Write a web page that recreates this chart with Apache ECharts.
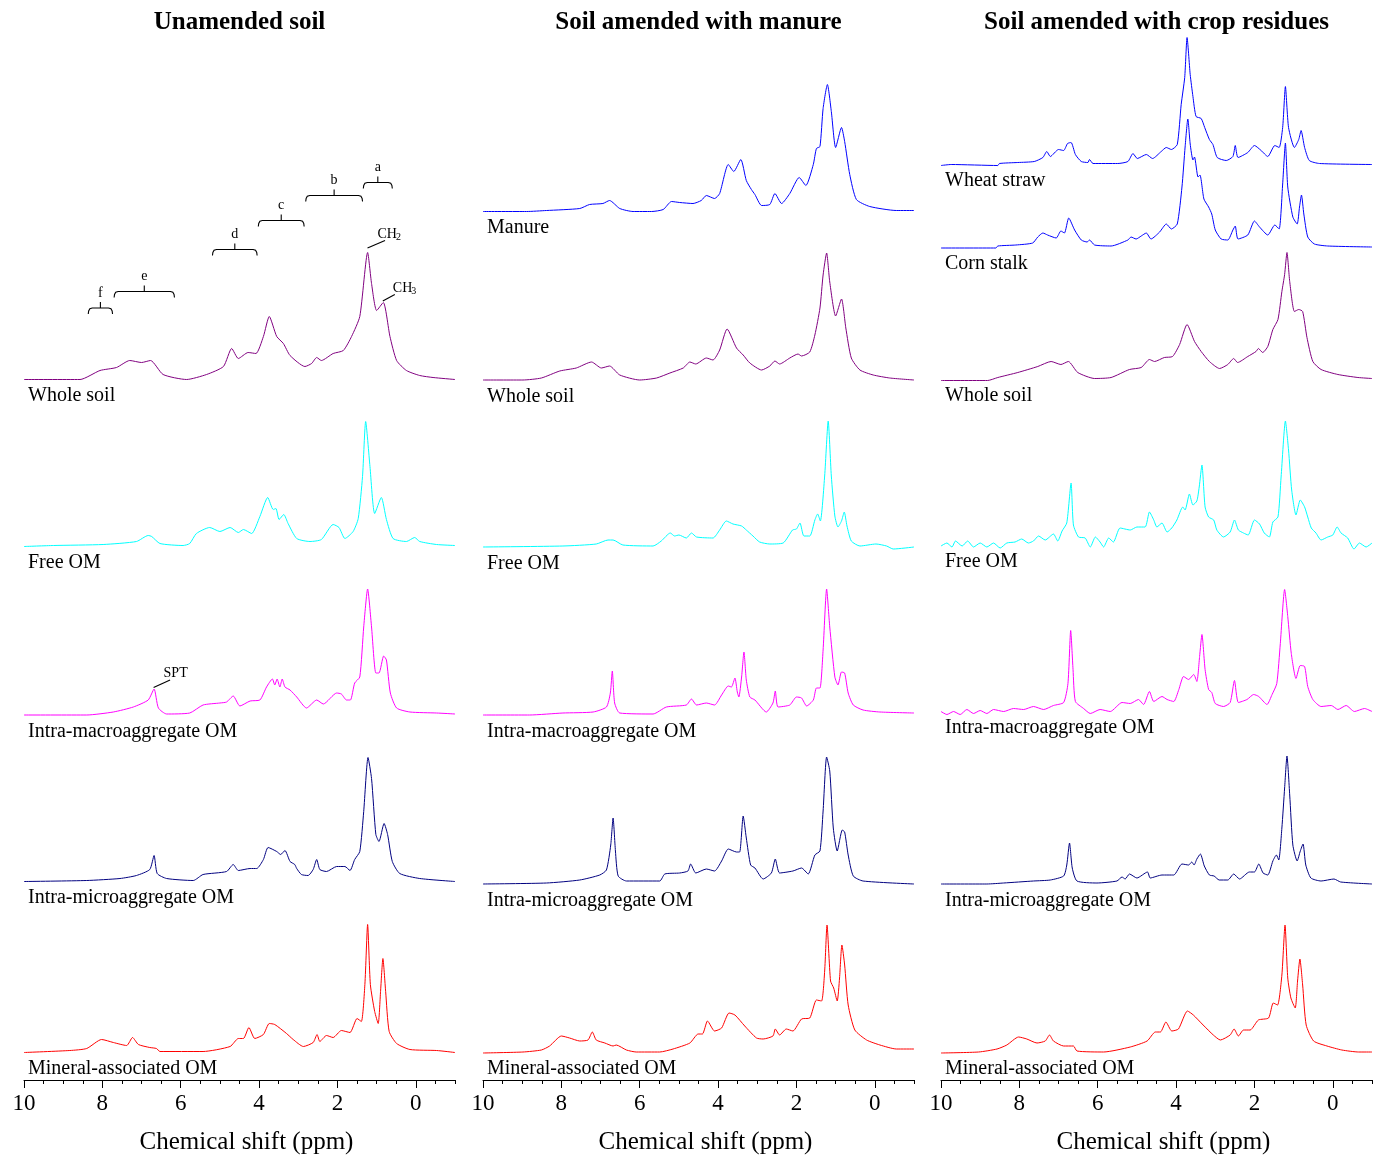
<!DOCTYPE html>
<html>
<head>
<meta charset="utf-8">
<script src="https://cdn.jsdelivr.net/npm/echarts@6.0.0/dist/echarts.min.js"></script>
<style>
html, body { margin: 0; padding: 0; background: #fff; }
#chart { width: 1379px; height: 1159px; }
</style>
</head>
<body>
<div id="chart"></div>
<script>
// [chemical shift (ppm), relative intensity]
const unamendedWhole = [[10,0],[8.57,0],[8.06,9],[7.64,12],[7.30,19],[7.0,17],[6.77,19],[6.45,5],[5.85,0],[5.34,5],[4.91,13],[4.70,31],[4.53,21],[4.28,27],[4.08,26],[3.89,43],[3.74,63],[3.55,43],[3.38,36],[3.21,24],[2.83,13],[2.66,16],[2.53,22],[2.41,19],[2.11,26],[1.85,29],[1.64,43],[1.43,63],[1.23,127],[1.13,96],[1.0,69],[0.83,77],[0.66,43],[0.49,19],[0.24,9],[-0.10,4],[-0.44,2],[-1,0]];
const unamendedFree = [[10,0],[9.25,1],[7.98,2],[7.13,5],[6.83,11],[6.74,10],[6.53,3],[5.94,1],[5.77,3],[5.60,13],[5.26,19],[5.0,15],[4.74,19],[4.53,14],[4.40,17],[4.19,13],[3.98,30],[3.78,49],[3.64,37],[3.57,38],[3.49,27],[3.37,32],[3.26,23],[3.04,8],[2.70,5],[2.41,7],[2.11,22],[1.96,19],[1.81,8],[1.60,15],[1.47,28],[1.36,70],[1.28,125],[1.17,80],[1.05,33],[0.88,49],[0.75,27],[0.58,8],[0.24,5],[0.03,9],[-0.10,5],[-0.53,2],[-1,1]];
const unamendedMacro = [[10,0],[8.40,0],[7.72,3],[7.21,8],[6.83,15],[6.68,26],[6.57,7],[6.36,1],[5.77,2],[5.43,10],[5.0,12],[4.83,13],[4.66,19],[4.49,9],[4.23,14],[3.98,15],[3.81,28],[3.66,36],[3.60,30],[3.54,36],[3.47,28],[3.41,36],[3.34,28],[3.21,25],[3.04,18],[2.79,7],[2.53,15],[2.36,11],[2.02,22],[1.90,21],[1.77,15],[1.67,15],[1.56,32],[1.43,38],[1.33,88],[1.23,126],[1.13,88],[1.02,42],[0.94,42],[0.82,59],[0.75,55],[0.65,22],[0.49,7],[0.15,3],[-0.53,2],[-1,1]];
const unamendedMicro = [[10,0],[8.40,1],[7.55,3],[7.13,6],[6.79,12],[6.68,26],[6.60,8],[6.36,3],[5.68,1],[5.43,7],[4.83,10],[4.66,17],[4.53,11],[4.23,13],[4.06,13],[3.89,22],[3.77,34],[3.55,30],[3.45,27],[3.34,31],[3.21,20],[3.09,17],[3.04,13],[2.92,7],[2.75,6],[2.62,12],[2.53,22],[2.45,12],[2.28,10],[2.02,15],[1.81,15],[1.68,11],[1.56,22],[1.43,30],[1.33,70],[1.22,124],[1.13,103],[1.02,47],[0.94,40],[0.81,58],[0.72,47],[0.60,20],[0.41,8],[-0.10,3],[-1,0]];
const unamendedMineral = [[10,0],[8.83,2],[8.40,4],[8.02,13],[7.72,10],[7.38,7],[7.23,15],[7.08,8],[6.79,5],[6.62,4],[6.53,1],[5.43,1],[4.74,6],[4.53,14],[4.40,14],[4.26,25],[4.11,14],[3.89,18],[3.74,29],[3.60,28],[3.30,19],[3.13,13],[2.87,6],[2.62,10],[2.52,18],[2.45,11],[2.28,17],[2.11,15],[1.90,22],[1.68,20],[1.50,34],[1.39,31],[1.30,68],[1.23,128],[1.16,68],[1.05,41],[0.96,29],[0.90,61],[0.84,94],[0.77,61],[0.68,21],[0.49,9],[0.15,3],[-0.53,2],[-1,0]];

const manureSource = [[10,0],[8.89,0],[8.38,1],[7.53,3],[7.28,7],[6.94,8],[6.77,11],[6.51,3],[6.17,0],[5.70,0],[5.40,2],[5.19,10],[4.98,9],[4.64,8],[4.43,11],[4.30,16],[4.09,13],[3.96,18],[3.74,47],[3.60,40],[3.42,52],[3.28,31],[3.15,22],[3.06,17],[2.89,6],[2.68,7],[2.55,18],[2.38,8],[2.17,18],[1.93,34],[1.76,26],[1.57,47],[1.49,63],[1.40,65],[1.32,103],[1.21,127],[1.11,100],[1.0,64],[0.85,84],[0.77,70],[0.64,37],[0.47,12],[0.13,5],[-0.55,1],[-1,1]];
const manureWhole = [[10,0],[8.98,0],[8.51,2],[8.04,9],[7.62,12],[7.23,18],[6.98,12],[6.77,14],[6.51,5],[6.0,0],[5.57,2],[5.23,7],[4.89,12],[4.72,18],[4.57,16],[4.30,22],[4.13,20],[3.96,30],[3.77,51],[3.53,32],[3.36,25],[3.19,17],[2.89,10],[2.68,14],[2.55,19],[2.43,16],[2.17,22],[1.96,26],[1.87,24],[1.66,28],[1.53,45],[1.40,72],[1.32,105],[1.23,127],[1.15,98],[1.0,64],[0.85,81],[0.74,52],[0.60,22],[0.38,10],[0.04,5],[-0.38,2],[-1,0]];
const manureFree = [[10,0],[7.96,1],[7.11,3],[6.81,7],[6.68,7],[6.43,2],[5.66,1],[5.45,6],[5.22,14],[5.11,11],[5.0,12],[4.81,9],[4.68,14],[4.55,10],[4.13,9],[3.96,17],[3.79,26],[3.62,23],[3.40,21],[3.28,17],[3.11,11],[2.94,5],[2.68,3],[2.34,4],[2.10,17],[2.0,18],[1.91,24],[1.81,11],[1.66,11],[1.53,27],[1.46,33],[1.39,26],[1.28,71],[1.19,126],[1.11,71],[1.02,31],[0.94,20],[0.85,26],[0.78,35],[0.71,21],[0.60,6],[0.38,1],[-0.03,3],[-0.30,1],[-0.47,-2],[-1,0]];
const manureMacro = [[10,0],[8.81,0],[7.96,2],[7.19,3],[6.85,8],[6.75,22],[6.70,44],[6.64,12],[6.51,2],[5.66,1],[5.32,8],[4.81,10],[4.68,16],[4.55,10],[4.30,12],[4.09,10],[3.91,20],[3.74,29],[3.66,28],[3.57,37],[3.51,23],[3.47,18],[3.40,38],[3.34,63],[3.28,35],[3.19,18],[3.06,15],[2.77,3],[2.60,12],[2.54,24],[2.47,8],[2.17,10],[2.0,18],[1.87,17],[1.74,9],[1.57,15],[1.49,27],[1.40,27],[1.32,65],[1.23,126],[1.15,88],[1.02,38],[0.94,30],[0.85,43],[0.77,42],[0.68,22],[0.55,10],[0.30,5],[-0.13,3],[-1,2]];
const manureMicro = [[10,0],[8.38,1],[7.53,4],[7.02,9],[6.85,14],[6.74,39],[6.68,66],[6.62,33],[6.55,8],[6.34,3],[5.49,3],[5.36,10],[4.98,11],[4.77,13],[4.70,20],[4.57,11],[4.30,15],[4.09,13],[3.91,23],[3.74,35],[3.53,32],[3.45,32],[3.36,68],[3.28,46],[3.17,19],[3.06,16],[2.85,5],[2.64,11],[2.54,25],[2.43,11],[2.09,13],[1.87,16],[1.70,10],[1.53,29],[1.40,33],[1.32,73],[1.23,127],[1.15,113],[1.06,56],[0.96,33],[0.83,54],[0.77,52],[0.68,29],[0.55,8],[0.30,3],[-1,0]];
const manureMineral = [[10,-1],[8.98,0],[8.51,2],[8.30,6],[8.0,16],[7.79,14],[7.53,11],[7.32,12],[7.21,20],[7.11,12],[6.89,9],[6.68,6],[6.60,7],[6.34,2],[6.09,0],[5.49,0],[5.15,3],[4.72,9],[4.51,18],[4.40,18],[4.27,31],[4.09,21],[3.91,24],[3.72,39],[3.57,37],[3.32,26],[3.02,14],[2.85,13],[2.60,16],[2.54,23],[2.43,17],[2.26,23],[2.09,21],[1.87,33],[1.66,34],[1.49,52],[1.36,51],[1.28,81],[1.22,127],[1.13,71],[1.05,64],[0.96,51],[0.90,74],[0.84,107],[0.77,87],[0.68,47],[0.51,22],[0.21,12],[-0.13,7],[-0.55,3],[-1,3]];

const wheatStraw = [[10,-1],[9.74,0],[8.55,-1],[8.51,1],[8.04,2],[7.62,3],[7.40,7],[7.30,13],[7.21,8],[7.0,15],[6.87,14],[6.77,21],[6.68,22],[6.57,10],[6.42,3],[6.25,2],[6.21,5],[6.12,1],[5.49,1],[5.23,3],[5.10,11],[4.99,6],[4.76,10],[4.60,6],[4.38,13],[4.25,17],[4.12,15],[3.97,20],[3.87,60],[3.78,87],[3.72,127],[3.64,90],[3.57,68],[3.49,48],[3.36,46],[3.27,37],[3.15,25],[3.06,20],[2.95,7],[2.72,4],[2.55,8],[2.49,19],[2.42,7],[2.17,12],[2.0,19],[1.83,14],[1.66,8],[1.48,19],[1.37,17],[1.28,37],[1.21,78],[1.13,37],[0.98,17],[0.87,25],[0.81,34],[0.72,17],[0.60,4],[0.34,1],[-1,0]];
const cornStalk = [[10,-1],[8.60,-1],[8.55,1],[8.09,2],[7.66,4],[7.53,10],[7.40,14],[7.28,12],[7.06,9],[6.94,16],[6.85,14],[6.74,29],[6.59,17],[6.42,7],[6.27,5],[6.21,7],[6.08,2],[5.66,1],[5.23,7],[5.15,10],[5.02,8],[4.89,11],[4.76,14],[4.64,8],[4.42,15],[4.25,23],[4.12,18],[3.97,23],[3.85,60],[3.77,100],[3.70,128],[3.64,103],[3.57,87],[3.53,90],[3.44,70],[3.39,72],[3.29,48],[3.17,40],[3.09,33],[3.0,17],[2.85,8],[2.68,7],[2.55,17],[2.49,21],[2.42,8],[2.17,12],[2.0,26],[1.87,20],[1.66,12],[1.48,22],[1.37,18],[1.28,63],[1.21,104],[1.15,60],[1.02,30],[0.91,23],[0.85,40],[0.80,52],[0.74,33],[0.64,10],[0.47,3],[0.13,1],[-1,0]];
const residueWhole = [[10,-1],[8.81,-1],[8.55,2],[8.04,7],[7.53,13],[7.19,18],[6.94,15],[6.75,18],[6.51,7],[6.08,1],[5.66,2],[5.19,10],[4.89,12],[4.68,20],[4.55,18],[4.30,22],[4.09,23],[3.91,35],[3.72,55],[3.53,38],[3.36,28],[3.15,18],[2.89,11],[2.68,15],[2.53,21],[2.43,17],[2.17,23],[1.96,28],[1.90,31],[1.79,27],[1.66,33],[1.53,50],[1.40,60],[1.30,88],[1.23,105],[1.17,127],[1.10,98],[0.98,68],[0.87,70],[0.77,68],[0.66,42],[0.51,18],[0.30,10],[-0.13,5],[-0.64,2],[-1,1]];
const residueFree = [[10,-1],[9.85,2],[9.72,-2],[9.63,4],[9.46,-1],[9.32,4],[9.17,-2],[9.0,2],[8.83,-2],[8.66,2],[8.49,-3],[8.32,2],[8.11,3],[7.94,6],[7.77,2],[7.64,4],[7.51,9],[7.34,5],[7.13,11],[7.02,4],[6.91,14],[6.79,22],[6.68,62],[6.62,20],[6.49,8],[6.32,7],[6.19,-2],[6.06,8],[5.94,3],[5.85,-2],[5.72,7],[5.60,3],[5.43,17],[5.17,15],[5.0,18],[4.79,18],[4.68,33],[4.57,25],[4.49,18],[4.36,22],[4.23,13],[4.11,17],[3.98,25],[3.83,38],[3.77,35],[3.66,51],[3.57,40],[3.47,44],[3.41,58],[3.34,80],[3.26,38],[3.17,28],[3.04,25],[2.96,15],[2.79,8],[2.62,13],[2.51,25],[2.41,15],[2.28,12],[2.16,10],[2.0,25],[1.87,21],[1.75,12],[1.62,8],[1.53,23],[1.40,28],[1.32,68],[1.21,124],[1.13,95],[1.05,55],[0.94,30],[0.83,45],[0.72,38],[0.64,28],[0.55,17],[0.43,12],[0.30,5],[0.13,8],[0.0,10],[-0.11,18],[-0.21,12],[-0.38,7],[-0.54,-4],[-0.68,2],[-0.85,-2],[-1,2]];
const residueMacro = [[10,0],[9.85,-3],[9.68,0],[9.51,-3],[9.34,2],[9.17,-2],[9.0,1],[8.83,-2],[8.66,2],[8.40,0],[8.15,3],[7.89,2],[7.64,5],[7.38,2],[7.13,6],[6.87,9],[6.76,28],[6.69,81],[6.63,42],[6.57,10],[6.36,3],[6.19,-2],[5.94,2],[5.68,0],[5.38,9],[5.17,8],[4.96,12],[4.83,7],[4.68,20],[4.57,10],[4.36,15],[4.23,12],[4.06,10],[3.93,22],[3.81,35],[3.68,32],[3.55,37],[3.47,30],[3.40,55],[3.34,77],[3.26,42],[3.17,22],[3.09,19],[3.0,8],[2.79,5],[2.62,9],[2.51,31],[2.41,9],[2.19,12],[2.02,17],[1.89,15],[1.68,7],[1.55,17],[1.43,28],[1.34,68],[1.23,122],[1.15,95],[1.06,58],[0.94,33],[0.83,46],[0.72,45],[0.64,25],[0.51,12],[0.30,5],[0.04,6],[-0.13,2],[-0.34,6],[-0.55,0],[-0.81,3],[-1,0]];
const residueMicro = [[10,0],[8.83,0],[8.40,1],[7.64,3],[7.21,4],[6.87,8],[6.79,19],[6.72,41],[6.65,16],[6.53,3],[6.02,1],[5.51,3],[5.38,7],[5.30,5],[5.19,10],[5.0,6],[4.73,12],[4.66,6],[4.36,9],[4.06,9],[3.85,20],[3.68,19],[3.60,22],[3.54,19],[3.47,25],[3.38,30],[3.28,18],[3.15,9],[3.03,8],[2.90,4],[2.68,4],[2.53,10],[2.38,5],[2.13,12],[2.0,12],[1.89,20],[1.78,11],[1.66,9],[1.53,23],[1.44,29],[1.38,24],[1.30,56],[1.23,96],[1.17,128],[1.10,89],[1.02,39],[0.91,23],[0.83,33],[0.76,40],[0.69,19],[0.56,6],[0.30,3],[-0.03,5],[-0.20,2],[-1,0]];
const residueMineral = [[10,-1],[9.04,0],[8.57,3],[8.32,7],[8.02,15],[7.81,13],[7.55,9],[7.34,11],[7.23,17],[7.13,11],[6.87,6],[6.62,6],[6.53,1],[5.85,0],[5.17,5],[4.74,11],[4.53,20],[4.40,20],[4.26,30],[4.11,21],[3.94,23],[3.71,41],[3.56,37],[3.31,27],[3.05,17],[2.87,12],[2.62,17],[2.52,23],[2.41,16],[2.28,22],[2.11,22],[1.90,32],[1.64,34],[1.52,49],[1.41,47],[1.30,77],[1.22,127],[1.15,74],[1.07,54],[0.96,44],[0.90,71],[0.84,93],[0.77,67],[0.68,27],[0.49,11],[0.15,6],[-0.23,2],[-0.66,0],[-1,0]];

const columnTitles = ['Unamended soil', 'Soil amended with manure', 'Soil amended with crop residues'];
const tickValues = [0, 2, 4, 6, 8, 10];
const axisTitle = 'Chemical shift (ppm)';

// functional-group regions marked above the unamended whole-soil spectrum
const regionLetters = ['a', 'b', 'c', 'd', 'e', 'f'];
const regionRanges = [[1.34, 0.60], [2.81, 1.36], [4.02, 2.85], [5.19, 4.05], [7.70, 6.16], [8.36, 7.74]];

const FONT = '"Liberation Serif", "Times New Roman", serif';
const PANEL_W = 431;
const C = {whole: '#800080', source: '#0000ff', free: '#00ffff', macro: '#ff00ff', micro: '#000080', mineral: '#ff0000'};

const panels = [
    {left: 24, traces: [
        {label: 'Whole soil', data: unamendedWhole, color: C.whole, base: 379.5},
        {label: 'Free OM', data: unamendedFree, color: C.free, base: 546.5},
        {label: 'Intra-macroaggregate OM', data: unamendedMacro, color: C.macro, base: 715},
        {label: 'Intra-microaggregate OM', data: unamendedMicro, color: C.micro, base: 881.5},
        {label: 'Mineral-associated OM', data: unamendedMineral, color: C.mineral, base: 1052.5}
    ]},
    {left: 483, traces: [
        {label: 'Manure', data: manureSource, color: C.source, base: 211.5},
        {label: 'Whole soil', data: manureWhole, color: C.whole, base: 380},
        {label: 'Free OM', data: manureFree, color: C.free, base: 547},
        {label: 'Intra-macroaggregate OM', data: manureMacro, color: C.macro, base: 715},
        {label: 'Intra-microaggregate OM', data: manureMicro, color: C.micro, base: 884},
        {label: 'Mineral-associated OM', data: manureMineral, color: C.mineral, base: 1052}
    ]},
    {left: 941, traces: [
        {label: 'Wheat straw', data: wheatStraw, color: C.source, base: 164.5},
        {label: 'Corn stalk', data: cornStalk, color: C.source, base: 247},
        {label: 'Whole soil', data: residueWhole, color: C.whole, base: 379.5},
        {label: 'Free OM', data: residueFree, color: C.free, base: 545},
        {label: 'Intra-macroaggregate OM', data: residueMacro, color: C.macro, base: 711.5},
        {label: 'Intra-microaggregate OM', data: residueMicro, color: C.micro, base: 884},
        {label: 'Mineral-associated OM', data: residueMineral, color: C.mineral, base: 1052}
    ]}
];

const grid = [], xAxis = [], yAxis = [], series = [];
panels.forEach((p, pi) => {
    p.traces.forEach(t => {
        const gi = grid.length;
        t.grid = gi;
        grid.push({left: p.left, width: PANEL_W, top: t.base - 140, height: 150});
        const xi = xAxis.length;
        xAxis.push({gridIndex: gi, type: 'value', min: -1, max: 10, inverse: true, show: false});
        yAxis.push({gridIndex: gi, type: 'value', min: -10, max: 140, show: false});
        series.push({
            type: 'line', xAxisIndex: xi, yAxisIndex: gi, data: t.data,
            symbol: 'none', clip: false, silent: true, smooth: 0.2,
            lineStyle: {color: t.color, width: 1}, itemStyle: {color: t.color}
        });
    });
    // shared ppm axis under each column
    const ag = grid.length;
    grid.push({left: p.left, width: PANEL_W, top: 1070, height: 10});
    yAxis.push({gridIndex: ag, type: 'value', min: 0, max: 1, show: false});
    xAxis.push({
        gridIndex: ag, type: 'value', position: 'bottom', min: -1, max: 10, inverse: true, interval: 0.5,
        axisLine: {show: true, lineStyle: {color: '#000', width: 1}},
        axisTick: {show: true, length: 4, lineStyle: {color: '#000'}},
        axisLabel: {show: false}, splitLine: {show: false}
    });
    xAxis.push({
        gridIndex: ag, type: 'value', position: 'bottom', min: -1, max: 10, inverse: true,
        axisLine: {show: false},
        axisTick: {show: true, length: 8, customValues: tickValues, lineStyle: {color: '#000'}},
        axisLabel: {show: true, customValues: tickValues, margin: 12, fontSize: 23, fontFamily: FONT, color: '#000'},
        splitLine: {show: false},
        name: axisTitle, nameLocation: 'middle', nameGap: 50,
        nameTextStyle: {fontSize: 25, fontFamily: FONT, color: '#000', padding: [0, 0, 0, 14]}
    });
});

const chart = echarts.init(document.getElementById('chart'));
chart.setOption({animation: false, grid, xAxis, yAxis, series});

const graphic = [];
const text = (x, y, str, size, opts) => graphic.push({
    type: 'text', x, y, silent: true,
    style: Object.assign({text: str, fontSize: size, fontFamily: FONT, fill: '#000', textVerticalAlign: 'middle'}, opts || {})
});
const seg = (x1, y1, x2, y2) => graphic.push({
    type: 'line', silent: true, shape: {x1, y1, x2, y2}, style: {stroke: '#000', lineWidth: 1.1}
});

panels.forEach((p, pi) => {
    text(p.left + PANEL_W / 2, 23, columnTitles[pi], 25, {fontWeight: 'bold', textAlign: 'center'});
    p.traces.forEach(t => text(p.left + 4, t.base + 16.5, t.label, 20));
});

// brackets over the unamended whole-soil trace
const wsGrid = panels[0].traces[0].grid;
const toPx = (g, v) => chart.convertToPixel({gridIndex: g}, v);
const levels = [197, 184, 159, 130, 88, 71.5];
regionRanges.forEach((r, i) => {
    const [x1, y] = toPx(wsGrid, [r[0], levels[i]]);
    const [x2] = toPx(wsGrid, [r[1], levels[i]]);
    const xc = (x1 + x2) / 2;
    graphic.push({
        type: 'polyline', silent: true,
        shape: {points: [[x1, y + 6], [x1 + 0.4, y + 3], [x1 + 1.6, y + 0.8], [x1 + 4, y], [x2 - 4, y], [x2 - 1.6, y + 0.8], [x2 - 0.4, y + 3], [x2, y + 6]]},
        style: {stroke: '#000', lineWidth: 1.1, fill: null}
    });
    seg(xc, y, xc, y - 6);
    text(xc, y - 15, regionLetters[i], 14, {textAlign: 'center'});
});

// peak labels
const peakLabel = (g, v, dx, dy, main, sub) => {
    const [x, y] = toPx(g, v);
    seg(x - 0.5, y - 1.5, x + dx, y + dy);
    text(x + 9.5, y + dy - 6.5, main, 14);
    if (sub) text(x + 9.5 + 18.5, y + dy - 3.5, sub, 10);
};
peakLabel(wsGrid, [1.22, 130], 17, -9, 'CH', '2');
peakLabel(wsGrid, [0.83, 77], 11.5, -8, 'CH', '3');
peakLabel(panels[0].traces[2].grid, [6.68, 26], 16, -9, 'SPT');

chart.setOption({graphic});
</script>
</body>
</html>
